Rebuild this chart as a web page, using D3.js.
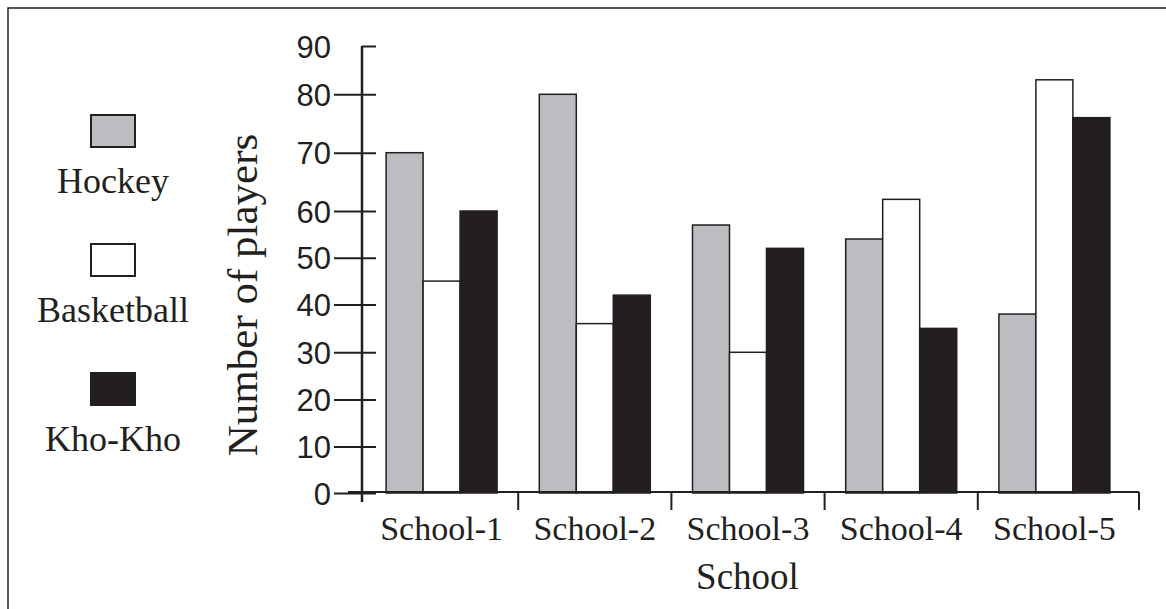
<!DOCTYPE html>
<html>
<head>
<meta charset="utf-8">
<script src="https://cdn.jsdelivr.net/npm/d3@7"></script>
<style>
  body { margin: 0; background: #fff; }
  text { fill: #231f20; }
</style>
</head>
<body>
<div id="chart"></div>
<script>
/* Grouped bar chart: players per sport in five schools */

const schools = ["School-1", "School-2", "School-3", "School-4", "School-5"];
const sports = ["Hockey", "Basketball", "Kho-Kho"];
const hockey = [70, 80, 57, 54, 38];
const basketball = [45, 36, 30, 62, 83];
const khoKho = [60, 42, 52, 35, 76];
const yTicks = [0, 10, 20, 30, 40, 50, 60, 70, 80, 90];

const colors = {"Hockey": "#bcbdc0", "Basketball": "#ffffff", "Kho-Kho": "#231f20"};
const ink = "#231f20";

const width = 1166,
    height = 609,
    axisX = 362,
    axisY = 492;

// the printed axis is not evenly spaced, so the scale is piecewise on the tick marks
const yRange = [493, 446.5, 399.5, 352.3, 304.5, 257.7, 211, 152.7, 94.3, 46];

const table = schools.map((s, i) => ({
    school: s,
    values: [
        {sport: "Hockey", num: hockey[i]},
        {sport: "Basketball", num: basketball[i]},
        {sport: "Kho-Kho", num: khoKho[i]}
    ]
}));

let svg = d3.select("#chart")
    .append("svg")
    .attr("width", width)
    .attr("height", height);

// frame
svg.append("path")
    .attr("d", `M8,${height} V8 H${width}`)
    .attr("fill", "none")
    .attr("stroke", ink)
    .attr("stroke-width", 1.5);

let y = d3.scaleLinear()
    .domain(yTicks)
    .range(yRange);

let x0 = d3.scaleBand()
    .domain(schools)
    .range([365, 1131]);

const groupWidth = 111;
let x1 = d3.scaleBand()
    .domain(sports)
    .range([0, groupWidth]);

// bars
let group = svg.selectAll(".group")
    .data(table)
    .join("g")
    .attr("class", "group")
    .attr("transform", d => `translate(${x0(d.school) + (x0.bandwidth() - groupWidth) / 2},0)`);

group.selectAll("rect")
    .data(d => d.values)
    .join("rect")
    .attr("x", d => x1(d.sport))
    .attr("width", x1.bandwidth())
    .attr("y", d => y(d.num))
    .attr("height", d => y(0) - y(d.num))
    .attr("fill", d => colors[d.sport])
    .attr("stroke", ink)
    .attr("stroke-width", 1.5);

// y axis
const yAxis = g => g
    .attr("transform", `translate(${axisX + 14},0)`)
    .call(d3.axisLeft(y).tickValues(yTicks).tickSize(42).tickPadding(3))
    .call(g => g.select(".domain").remove())
    .call(g => g.selectAll(".tick line").attr("stroke", ink).attr("stroke-width", 2))
    .call(g => g.selectAll(".tick").filter(d => d === 90).select("line").attr("x2", -14))
    .call(g => g.selectAll(".tick text")
        .attr("font-family", "'Liberation Sans', Arial, sans-serif")
        .attr("font-size", 31)
        .attr("dy", "0.36em"));

svg.append("g").call(yAxis);

svg.append("line")
    .attr("x1", axisX).attr("x2", axisX)
    .attr("y1", y(90)).attr("y2", axisY + 10)
    .attr("stroke", ink)
    .attr("stroke-width", 2.5);

// x axis
const xAxis = g => g
    .attr("transform", `translate(0,${axisY})`)
    .call(d3.axisBottom(x0).tickSize(0).tickPadding(0))
    .call(g => g.select(".domain").remove())
    .call(g => g.selectAll(".tick text")
        .attr("font-family", "'Liberation Serif', 'Times New Roman', serif")
        .attr("font-size", 34)
        .attr("dy", 48));

svg.append("g").call(xAxis);

svg.append("line")
    .attr("x1", 348).attr("x2", 1139)
    .attr("y1", axisY).attr("y2", axisY)
    .attr("stroke", ink)
    .attr("stroke-width", 2);

// ticks between schools and at the end of the axis
svg.selectAll(".sep")
    .data(schools.slice(1).map(s => x0(s)).concat([1139]))
    .join("line")
    .attr("class", "sep")
    .attr("x1", d => d).attr("x2", d => d)
    .attr("y1", axisY).attr("y2", axisY + 18)
    .attr("stroke", ink)
    .attr("stroke-width", 2);

// axis titles
svg.append("text")
    .attr("transform", "translate(257,295) rotate(-90)")
    .attr("text-anchor", "middle")
    .attr("font-family", "'Liberation Serif', 'Times New Roman', serif")
    .attr("font-size", 43)
    .text("Number of players");

svg.append("text")
    .attr("x", 747.5)
    .attr("y", 589)
    .attr("text-anchor", "middle")
    .attr("font-family", "'Liberation Serif', 'Times New Roman', serif")
    .attr("font-size", 37)
    .text("School");

// legend
let legend = svg.selectAll(".legend")
    .data(sports)
    .join("g")
    .attr("class", "legend")
    .attr("transform", (d, i) => `translate(113,${115 + i * 129})`);

legend.append("rect")
    .attr("x", -22)
    .attr("width", 44)
    .attr("height", 32)
    .attr("fill", d => colors[d])
    .attr("stroke", ink)
    .attr("stroke-width", 2);

legend.append("text")
    .attr("y", 78)
    .attr("text-anchor", "middle")
    .attr("font-family", "'Liberation Serif', 'Times New Roman', serif")
    .attr("font-size", 36)
    .text(d => d);
</script>
</body>
</html>
